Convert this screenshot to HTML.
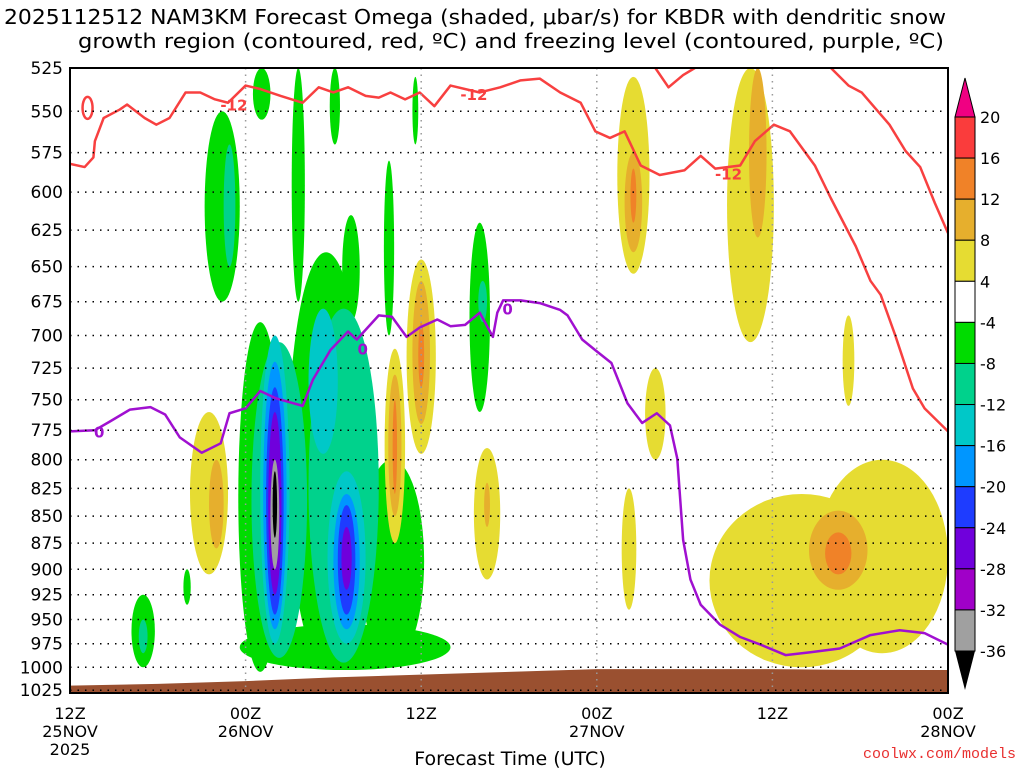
<!DOCTYPE html>
<html><head><meta charset="utf-8"><style>
body{margin:0;background:#fff}
svg{display:block;font-family:"DejaVu Sans","Liberation Sans",sans-serif}
</style></head><body>
<svg id="chart" width="1024" height="768" viewBox="0 0 1024 768">
<text x="4" y="24" font-size="20" textLength="942" lengthAdjust="spacingAndGlyphs">2025112512 NAM3KM Forecast Omega (shaded, μbar/s) for KBDR with dendritic snow</text>
<text x="78" y="48" font-size="20" textLength="866" lengthAdjust="spacingAndGlyphs">growth region (contoured, red, ºC) and freezing level (contoured, purple, ºC)</text>
<g id="plot"></g>
<text x="510" y="765" text-anchor="middle" font-size="19">Forecast Time (UTC)</text>
<text x="1016" y="758" text-anchor="end" font-size="15" fill="#e83030" font-family="Liberation Mono, monospace">coolwx.com/models</text>
</svg>
<script>
const NS='http://www.w3.org/2000/svg';
const pressureTicks=[525,550,575,600,625,650,675,700,725,750,775,800,825,850,875,900,925,950,975,1000,1025];
const timeTicksHours=[0,12,24,36,48,60];
const timeLabels=[['12Z','25NOV','2025'],['00Z','26NOV'],['12Z'],['00Z','27NOV'],['12Z'],['00Z','28NOV']];
// freezing level (0C) line: hours, pressure
const frzHours=[0,1.7,2.7,4.1,5.5,6.5,7.5,9.0,10.3,10.9,12,13.0,14.1,15.9,16.6,17.8,19.0,19.6,21.1,22.0,23.0,23.9,25.1,26.0,27.0,28.0,28.9,29.2,29.6,30.8,32.1,33.5,34.0,35.0,36.0,37.0,38.1,39.1,40.1,41.0,41.5,41.9,42.4,43.1,44.4,45.8,47.2,48.9,50.6,52.6,54.7,56.7,58.4,60];
const frzP=[776,775,768,758,756,762,781,794,786,761,757,743,749,755,734,711,697,703,685,686,701,694,688,693,692,683,701,683,674,674,676,681,685,703,712,721,753,769,761,771,799,872,910,935,955,968,976,987,984,980,966,961,964,976];
// -12C lines
const m12Hours=[0,1.0,1.6,1.7,2.3,3.4,3.9,5.1,5.9,6.8,7.9,8.9,9.9,10.8,12.0,13.0,14.4,15.9,17.0,18.0,19.0,20.2,21.1,21.9,22.9,23.9,24.9,26.0,28.0,29.4,30.8,32.1,33.5,34.9,35.9,36.9,37.9,39.0,40.3,42.0,43.1,44.1,45.8,46.8,48.1,49.2,50.9,52.0,53.7,54.7,55.4,56.4,57.6,58.4,60];
const m12P=[582,584,578,568,554,549,546,554,558,554,539,539,543,545,535,537,541,545,536,539,536,541,542,539,543,539,547,535,539,536,532,531,539,545,562,566,562,583,589,586,577,585,583,568,558,562,583,604,636,660,670,700,741,757,776];
const m12bHours=[52,53.2,54.1,56.0,57.1,58.1,59.1,60];
const m12bP=[525,535,539,558,574,584,607,627];
const m12cHours=[40,40.9,41.9,42.7];
const m12cP=[525,536,529,525];
// omega blobs: center hour, half-width hours, top pressure, bottom pressure, omega value (μbar/s)
const blobHour=[10.4,10.9,13.1,15.6,18.1,19.2,13,17.5,22,18.8,5,5,8,28,28.2,21.8,23.6,
 14.3,18.7,17.3,14,14,14,14,14,14,18.9,18.9,18.9,18.9,
 9.5,10,24,24,24,22.2,22.2,22.2,28.5,28.5,38.5,38.5,38.5,46.5,47,38.2,40,53.2,50,55.5,52.5,52.5];
const blobHalf=[1.2,0.4,0.6,0.45,0.35,0.6,1.5,2.6,2.2,7.2,0.8,0.3,0.25,0.7,0.3,0.35,0.2,
 1.9,2.4,1.0,1.0,0.8,0.6,0.45,0.3,0.15,1.3,0.9,0.6,0.35,
 1.3,0.5,1.0,0.6,0.2,0.7,0.45,0.15,0.9,0.2,1.1,0.6,0.2,1.6,0.6,0.5,0.7,0.4,6.3,4.5,2,0.9];
const blobTop=[550,570,525,525,525,615,690,640,800,955,925,950,900,620,660,580,530,
 705,680,680,700,720,740,760,800,810,810,830,840,860,
 760,800,645,660,690,710,730,750,790,820,530,575,585,525,525,825,725,685,830,800,845,865];
const blobBot=[675,650,555,675,570,690,1005,1000,995,1003,1000,985,935,760,690,700,570,
 990,995,795,975,960,945,925,900,870,975,960,945,920,
 905,880,795,770,740,875,850,830,910,860,655,640,620,705,630,940,800,755,1000,985,920,905];
const blobVal=[-6,-10,-6,-6,-6,-6,-6,-6,-6,-6,-6,-10,-6,-6,-10,-6,-6,
 -10,-10,-14,-14,-18,-22,-26,-34,-40,-14,-18,-22,-26,
 6,10,6,10,14,6,10,14,6,10,6,10,14,6,10,6,6,6,6,6,10,14];
// terrain (surface pressure)
const terrHours=[0,6,12,18,24,30,36,42,48,54,60];
const terrP=[1020,1018,1015,1011,1008,1005,1002,1002,1002,1003,1003];
const cbLabels=['20','16','12','8','4','-4','-8','-12','-16','-20','-24','-28','-32','-36'];
const cbColors=['#fa3c3c','#f08228','#e6af2d','#e6dc32','#ffffff','#00dc00','#00d28c','#00c8c8','#0096ff','#1e3cff','#7000dc','#a000c8','#a0a0a0'];

const X0=70,X1=948,Y0=68,Y1=693;
const X=h=>X0+(X1-X0)*h/60;
const Y=p=>Y0+930*Math.log(p/525);
function colorFor(v){
  if(v>=16)return '#fa3c3c';if(v>=12)return '#f08228';if(v>=8)return '#e6af2d';if(v>=4)return '#e6dc32';
  if(v<=-36)return '#000';if(v<=-32)return '#a0a0a0';if(v<=-28)return '#a000c8';if(v<=-24)return '#7000dc';
  if(v<=-20)return '#1e3cff';if(v<=-16)return '#0096ff';if(v<=-12)return '#00c8c8';if(v<=-8)return '#00d28c';return '#00dc00';
}
const plot=document.getElementById('plot');
function mk(tag,attrs,parent){const e=document.createElementNS(NS,tag);for(const k in attrs)e.setAttribute(k,attrs[k]);(parent||plot).appendChild(e);return e;}
const clip=mk('clipPath',{id:'pc'});mk('rect',{x:X0,y:Y0,width:X1-X0,height:Y1-Y0},clip);
const g=mk('g',{'clip-path':'url(#pc)'});


for(let i=0;i<blobHour.length;i++){
  const cx=X(blobHour[i]),rx=X(blobHour[i]+blobHalf[i])-cx,yt=Y(blobTop[i]),yb=Y(blobBot[i]);
  const e=mk('ellipse',{cx:cx,cy:(yt+yb)/2,rx:rx,ry:(yb-yt)/2,fill:colorFor(blobVal[i])},g);
  
  
}
// terrain
let td='M'+X(0)+','+(Y1+2);
terrHours.forEach((h,i)=>{td+=' L'+X(h)+','+Y(terrP[i]);});
td+=' L'+X(60)+','+(Y1+2)+' Z';
const terr=mk('path',{d:td,fill:'#9a5030'},g);


// grid
pressureTicks.forEach(p=>{
  const l=mk('line',{x1:X0,x2:X1,y1:Y(p),y2:Y(p),stroke:'#000','stroke-width':1.5,'stroke-dasharray':'1.5 6'});
  
  
  const t=mk('text',{x:63,y:Y(p)+6,'text-anchor':'end','font-size':17});
  t.textContent=p;
  
  
});
timeTicksHours.forEach((h,i)=>{
  if(i>0&&i<5){const l=mk('line',{x1:X(h),x2:X(h),y1:Y0,y2:Y1,stroke:'#999','stroke-width':1.5,'stroke-dasharray':'1.5 5'});
  
  }
  timeLabels[i].forEach((s,j)=>{
    const t=mk('text',{x:X(h),y:719+j*18,'text-anchor':'middle','font-size':16});
    t.textContent=s;
    
    
  });
});
function line(hs,ps,col,name){
  const d=hs.map((h,i)=>(i?'L':'M')+X(h)+','+Y(ps[i])).join(' ');
  const e=mk('path',{d:d,fill:'none',stroke:col,'stroke-width':2.5,'stroke-linejoin':'round'},g);
  
  
}
line(m12Hours,m12P,'#f84040','dgz-minus12-line');
line(m12bHours,m12bP,'#f84040','dgz-minus12-line-b');
line(m12cHours,m12cP,'#f84040','dgz-minus12-line-c');
const loop=mk('ellipse',{cx:X(1.2),cy:Y(548),rx:5,ry:11,fill:'none',stroke:'#f84040','stroke-width':2.5},g);


line(frzHours,frzP,'#a010d0','freezing-level-line');
[[11.2,546,'-12'],[27.6,540,'-12'],[45,588,'-12']].forEach(a=>{
  const t=mk('text',{x:X(a[0]),y:Y(a[1])+6,'text-anchor':'middle','font-size':15,'font-weight':'bold',fill:'#f84040'});
  t.textContent=a[2];
  
  
});
[[2,776],[20,710],[29.9,680]].forEach(a=>{
  const t=mk('text',{x:X(a[0]),y:Y(a[1])+6,'text-anchor':'middle','font-size':15,'font-weight':'bold',fill:'#a010d0'});
  t.textContent='0';
  
  
});
const fr=mk('rect',{x:X0,y:Y0,width:X1-X0,height:Y1-Y0,fill:'none',stroke:'#000','stroke-width':2});


// colorbar
const cb=mk('g',{});


const bh=(651-117)/13;
mk('path',{d:'M955,117 L965,78 L975,117 Z',fill:'#f00082',stroke:'#000','stroke-width':1},cb);
cbColors.forEach((c,i)=>{
  const r=mk('rect',{x:955,y:117+i*bh,width:20,height:bh,fill:c,stroke:'#000','stroke-width':1},cb);
  
  
});
mk('path',{d:'M955,651 L965,690 L975,651 Z',fill:'#000'},cb);
cbLabels.forEach((s,i)=>{
  const t=mk('text',{x:980,y:117+i*bh+6,'font-size':16},cb);
  t.textContent=s;
  
  
});
</script>
</body></html>
